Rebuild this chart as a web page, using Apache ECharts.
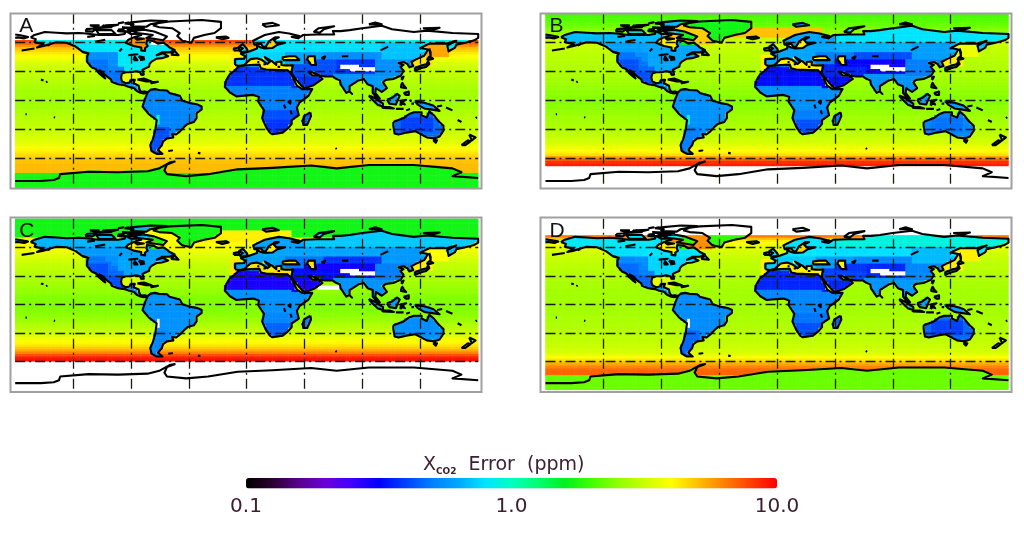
<!DOCTYPE html>
<html><head><meta charset="utf-8">
<script src="https://cdn.jsdelivr.net/npm/echarts@6/dist/echarts.min.js"></script>
<style>html,body{margin:0;background:#fff}#main{width:1024px;height:533px;filter:blur(0.75px)}</style>
</head><body><div id="main"></div>
<script>
const panelNames=['A','B','C','D'];
const colorbarTicks=[0.1,1,10];
const rampColors=['#000000','#2a0030','#5a0090','#6a00d8','#4000ff','#0000ff','#0040ff','#0080ff','#00a8ff','#00e4ff','#00ffc0','#00ff70','#00f020','#40ff00','#90ff00','#c8ff00','#ffff00','#ffc000','#ff8000','#ff4000','#ff0000'];

// ocean error (ppm) per 2.5-degree latitude row, north to south; 0 = no data
const oceanA=[0,0,0,0,0,0,0,0,0,0,0,7.8,6.8,5.8,5,4.6,4.3,4,3.8,3.6,3.4,3.3,3.2,3.15,3.1,3.05,3,2.95,2.9,2.85,2.8,2.75,2.7,2.7,2.7,2.7,
2.7,2.7,2.7,2.75,2.8,2.85,2.9,2.95,3,3,3.05,3.1,3.15,3.2,3.3,3.35,3.45,3.55,3.7,3.9,4.1,4.3,4.5,4.7,4.9,5,5.1,5.1,5.1,5.1,1.7,1.7,1.7,1.7,1.7,1.7];
const oceanB=[2,2.05,2.1,2.15,2.2,2.3,2.4,2.5,2.7,2.9,3.1,3.2,3.2,3.15,3.1,3.05,3,3,2.95,2.95,2.9,2.9,2.85,2.85,2.8,2.8,2.75,2.7,2.7,2.65,2.6,2.55,2.5,2.5,2.45,2.45,
2.45,2.45,2.5,2.5,2.55,2.6,2.65,2.7,2.7,2.75,2.8,2.85,2.9,3,3.05,3.15,3.25,3.35,3.5,3.7,3.9,4.1,4.5,5.6,7,8.5,9,0,0,0,0,0,0,0,0,0];
const oceanC=[1.7,1.7,1.7,1.7,1.7,1.7,1.7,1.7,3.8,4,4,3.9,3.8,3.7,3.6,3.5,3.4,3.3,3.2,3.1,3.05,3,2.95,2.9,2.85,2.8,2.75,2.7,2.65,2.6,2.55,2.5,2.45,2.4,2.4,2.4,
2.4,2.4,2.4,2.45,2.5,2.55,2.6,2.7,2.8,2.9,3,3.1,3.25,3.45,3.7,3.9,4.1,4.4,4.8,5.4,6.2,7.5,9,9.5,0,0,0,0,0,0,0,0,0,0,0,0];
const oceanD=[0,0,0,0,0,0,8,6.5,5,4.2,3.9,3.7,3.5,3.4,3.3,3.2,3.15,3.1,3.05,3,3,2.95,2.9,2.9,2.85,2.85,2.8,2.8,2.75,2.75,2.7,2.7,2.7,2.7,2.7,2.7,
2.7,2.7,2.7,2.75,2.75,2.8,2.8,2.8,2.85,2.85,2.9,2.9,2.95,3,3,3.05,3.1,3.15,3.2,3.3,3.4,3.6,3.9,4.4,5,5.6,6.2,6.8,7,7,2.2,2.2,2.2,2.2,2.2,2.2];
const antarcticValues=[1.7,0,0,2.25];

// regional readings: [lonW,lonE,latS,latN] then ppm in panels A,B,C,D (null = keep); later rows win
const landZones=[
[[-170,-50,60,90],.85,.68,.66,.82],[[-170,-50,50,60],.82,.62,.6,.8],[[-130,-105,50,60],.8,.6,.58,.78],
[[-100,-50,25,50],.82,.62,.62,.75],
[[-130,-110,45,50],.55,.48,.48,.52],[[-130,-104,40,45],.55,.48,.48,.52],[[-130,-100,35,40],.55,.48,.48,.52],[[-130,-96,30,35],.52,.46,.46,.5],[[-125,-94,25,30],.5,.44,.44,.48],
[[-125,-108,30,42],.48,.42,.42,.46],[[-118,-90,15,30],.48,.42,.42,.46],[[-95,-75,7,18],.6,.58,.58,.6],
[[-82,-34,-56,13],.52,.56,.56,.54],[[-75,-60,-56,-28],.42,.5,.52,.46],[[-70,-67.5,-24,-15],.9,.9,0,0],
[[-18,52,-12,15],.5,.55,.55,.52],[[10,42,-36,-10],.42,.5,.52,.48],[[15,36,-36,-20],.38,.42,.45,.42],
[[-18,35,15,38],.38,.33,.29,.36],[[35,60,12,32],.38,.33,.29,.36],[[36,75,25,38],.42,.36,.33,.4],
[[-12,30,36,50],.75,.62,.6,.72],[[-12,45,50,72],.8,.62,.62,.8],[[30,60,38,50],.62,.5,.48,.6],
[[45,180,60,82],.88,.8,.72,.9],[[45,135,50,60],.78,.66,.62,.78],[[60,130,42,50],.55,.42,.38,.52],[[45,110,36,42],.42,.32,.3,.38],
[[70,105,28,42],.38,.3,.3,.36],[[73,87,32,38],0,0,0,0],[[80,100,30,36],0,0,0,0],[[100,135,22,42],.55,.5,.5,.52],[[105,145,42,60],.7,.6,.58,.68],[[135,180,50,60],.8,.68,.66,.8],
[[68,90,6,28],.56,.56,.56,.56],[[90,122,6,26],.58,.56,.56,.58],[[95,155,-11,6],.6,.58,.58,.6],
[[112,155,-44,-10],.46,.52,.56,.46],[[120,145,-32,-18],.4,.48,.54,.4],[[42,52,-27,-11],.46,.5,.52,.46],
[[165,180,-48,-33],3,3,3,3],
[[-75,-10,58,85],0,1.7,1.7,1.9],[[-180,180,63,90],0,null,null,null],[[-180,180,73,90],null,null,null,0]
];
const seaZones=[
[[-85,-50,58,79],null,4.8,4,6],[[-35,35,66,75],null,5,null,null],[[-35,35,66,78],null,null,4.2,null],[[-95,-75,50,65],6,4.2,4.2,4.2],
[[-12,42,29,47],4.2,4.2,4.4,4.2],[[25,56,35,48],4.2,4.2,4.4,4.2],[[10,30,53,66],4.8,4.2,4.2,4.6],[[128,145,35,55],4.4,4.2,4.2,4.2],
[[140,157,45,62],5.5,3.7,4,4.2],[[-98,-80,18,31],3.6,3.3,3.4,3.5],[[32,44,13,30],3.8,3.8,3.8,3.8],[[48,57,24,30],3.8,3.8,3.8,3.8],
[[55,72,15,21],null,null,0,null],[[-150,-143,-16,-14],.7,.7,.7,.7],
[[-180,180,73,90],0,null,null,0]
];

// coastlines in lon,lat
const northAmerica=[[-168,65.5],[-165,68],[-157,71],[-148,70.3],[-140,69.6],[-130,70],[-125,69.5],[-115,68],[-108,68],[-100,68],[-95,69],[-94,72],[-90,69],[-85,69],[-82,68],[-87,66],[-92,63],[-94,60],[-93,58.7],[-88,56.5],[-82,55],[-82,52],[-79,51.5],[-79,54.5],[-77,56.5],[-78,59],[-77.5,62.5],[-72,61.5],[-69,59],[-65,60],[-62,57.5],[-60,55],[-56,52.5],[-60,50],[-66,50],[-70,47],[-65,49],[-65,47],[-61,46],[-66,44],[-67,45],[-70,43.5],[-70,42],[-74,40.5],[-75.5,38],[-76,35],[-78,34],[-81,32],[-80,27],[-80.5,25],[-82,27],[-83,29.5],[-86,30.5],[-90,29.5],[-94,29.5],[-97,28],[-97.7,24],[-97,20],[-94,18],[-91,18.7],[-90.5,21],[-87,21.5],[-88,18],[-88.5,16],[-84,15.5],[-83.5,12],[-82,9],[-79.5,9.5],[-77,8.5],[-78,7.5],[-80,7.5],[-83,8.3],[-85.5,10],[-87.5,13],[-92,14.5],[-95,16],[-100,17],[-105,19.5],[-105.5,22],[-109,25.5],[-112.5,30],[-114.5,31.5],[-112,27],[-110,23],[-112,25],[-115,28.5],[-117,32.5],[-120.5,34.5],[-124,40],[-124,46],[-123,49],[-128,51],[-133,56],[-140,60],[-148,60.5],[-152,59],[-158,56.5],[-163,55],[-158,58.5],[-165,60.5],[-164,63.5],[-168,65.5]];
const southAmerica=[[-77,8.5],[-75,11],[-71.5,12],[-68,11],[-62,10.5],[-60,8],[-52,5],[-50,0],[-44,-2.5],[-38,-4],[-35,-6],[-35,-9],[-39,-13],[-39,-18],[-41,-22],[-46,-24],[-48.5,-27],[-52,-32],[-55,-35],[-58,-34.5],[-57,-38],[-62,-39],[-65,-42],[-66,-46],[-69,-51],[-65.5,-55],[-70,-55],[-74,-52],[-75,-46],[-73,-40],[-71,-30],[-70,-20],[-76,-14],[-81,-6],[-80,-2],[-79,2],[-77.5,7],[-77,8.5]];
const africa=[[-6,35.7],[3,37],[10,37.3],[11,33.5],[15,32.3],[20,32],[25,31.7],[32,31.2],[34.5,28],[37,21],[39,15.5],[43,12],[51,12],[48,5],[41,-2],[39,-7],[40.5,-15],[35,-20],[35,-24],[32.5,-28],[28,-33],[20,-34.7],[18,-33],[15,-27],[12,-18],[13.5,-10],[9,-1],[9.5,4],[5,6],[-4,5],[-8,4.5],[-13,8.5],[-17,14.5],[-16,21],[-13,27.5],[-9.5,31],[-6,35.7]];
const eurasia=[[-9,37],[-9,43],[-2,43.5],[-1,46],[-4.5,48.5],[2,51],[8,54],[8,57],[11,55],[14,54],[20,54.5],[24,58],[30,60],[23,60],[21,63],[25,65.5],[22,65.5],[17,61],[18,59],[15,56],[13,55.5],[11,59],[6,58],[5,62],[14,68],[25,71],[33,69.5],[41,67],[35,66],[40,64.5],[44,68],[55,68.5],[68,68.5],[67,72],[73,72],[80,73],[90,75],[105,77.5],[113,74],[130,71],[140,72.5],[160,70],[170,69.5],[180,69],[180,65],[177,62.5],[170,60],[163,58],[162,55],[157,51],[156,57],[163,62],[155,59],[142,59],[135,54.5],[141,53],[138,46.5],[132,43],[128,40],[129.5,36],[126.5,34.5],[125,38],[122,40],[118,39],[122,37],[119.5,35],[122,31],[120,26],[114,22.5],[108,21.5],[106,19],[109,13],[105,9],[100.5,13],[100,8],[103.5,2],[101,3],[98,8],[98,15],[94,17],[91,22.5],[87,21],[80,15],[80,10],[77.5,8],[73,17],[72.5,21],[69,23],[67,25],[61,25],[57,26],[50,30],[48,30],[51,26],[51,24.5],[56,26],[59,22.5],[52,16],[45,13],[43,15],[39,21],[35,28],[35,31.5],[36,36.5],[30,36.5],[27,37],[27,40.5],[23,40],[23,37],[19.5,41],[14,45],[12.5,44],[18,40],[16,38],[12,42],[8,44],[3,43],[0,39.5],[-2,37],[-6,36],[-9,37]];
const chukotka=[[-180,68.5],[-175,67.5],[-170,66],[-173,64.5],[-178,65.5],[-180,65]];
const greenland=[[-73,78],[-68,80.5],[-60,82],[-35,83.5],[-20,81.5],[-20,75],[-25,70],[-33,68],[-41,65],[-43,60],[-50,62],[-54,67],[-52,70],[-58,75],[-68,76],[-73,78]];
const australia=[[114,-22],[122,-18],[126,-14],[130,-12],[136,-12],[136,-15],[140,-17.5],[142,-11],[145.5,-15],[149,-21],[153,-26],[153,-31],[150,-37],[146,-39],[140,-38],[136,-35],[131,-31.5],[124,-33],[118,-35],[115,-34],[114,-26],[114,-22]];
const antarctica=[[-180,-83],[-160,-83],[-150,-82],[-146,-80],[-145,-76],[-123,-73.5],[-100,-74],[-77,-73],[-68,-70],[-60,-64],[-56,-63],[-62,-66],[-64,-72],[-62,-76],[-47,-78],[-30,-76],[-7,-71],[20,-69.5],[50,-67],[70,-70],[95,-66.5],[130,-66.5],[160,-70],[167,-74],[160,-78],[180,-80]];
const islands=[
[[-80,73.5],[-72,71.5],[-67,69],[-62,66.5],[-65,62.5],[-72,64],[-78,65],[-73,68],[-85,70],[-89,72],[-80,73.5]],
[[-117,73],[-105,73],[-102,69],[-115,69],[-117,73]],[[-125,74],[-116,75],[-120,71.5],[-125,72],[-125,74]],
[[-90,77],[-78,76.5],[-75,79],[-62,82.5],[-75,83],[-90,81],[-90,77]],[[-97,76],[-80,75],[-90,74],[-97,76]],[[-117,76],[-105,76],[-105,74.5],[-117,75],[-117,76]],[[-95,80],[-88,79],[-92,81],[-95,80]],[[-110,78],[-100,78.5],[-105,77],[-110,78]],
[[-100,73.5],[-96,74],[-95,71.5],[-100,72],[-100,73.5]],[[-122,78],[-115,78],[-118,76.5],[-122,78]],[[-100,80],[-96,81],[-97,79],[-100,80]],[[-93,73],[-90,74],[-90,71.5],[-93,73]],[[-112,78],[-108,77],[-112,76.5],[-112,78]],
[[-87,65],[-80,64],[-85,63],[-87,65]],[[-59,47.7],[-53,47],[-56,51.5],[-59,47.7]],[[-85,22],[-80,23],[-74,20],[-78,20],[-85,22]],[[-74,19],[-69,19.5],[-69,18],[-74,18],[-74,19]],
[[-24,65.5],[-16,66.3],[-14,65],[-19,63.5],[-24,65.5]],[[-5,50],[1,51],[0,54],[-3,58.5],[-6,56],[-3,54],[-5,52],[-5,50]],[[-10,52],[-6,52],[-6,55],[-10,54],[-10,52]],
[[12,79],[20,80.5],[25,78],[15,76.5],[12,79]],[[52,71],[56,75],[68,77],[60,74],[57,70.5],[52,71]],[[95,79],[105,79],[100,81],[95,79]],[[137,75],[150,75.5],[145,73.5],[137,75]],
[[142,54],[143,50],[143,46],[142,48],[142,54]],[[131,34],[136,36.5],[140,38],[141,41],[142,38],[139.5,35],[135,33.5],[131,31],[131,34]],[[140,42],[142,45.5],[145,43.5],[141,42],[140,42]],
[[120,23],[122,25],[121,22],[120,23]],[[120,16],[121,18.5],[122,16],[124,13],[120,14],[120,16]],[[122,8],[126,9.5],[126,6],[124,6],[122,8]],
[[109,1],[113,3],[117,7],[119,5],[117.5,1],[116,-4],[111,-3],[109,1]],[[95,5.5],[100,2.5],[106,-3],[106,-6],[102,-4.5],[97,2],[95,5.5]],[[105,-6.5],[111,-6.5],[114.5,-8],[106,-7.5],[105,-6.5]],
[[119.5,-5],[120,0],[124,1],[121,-1],[123,-4],[121,-3],[119.5,-5]],[[131,-1],[138,-2],[145,-5],[150,-10.5],[143,-9],[138,-8],[133,-4],[131,-1]],[[80,9.5],[82,7],[80.5,6],[80,9.5]],
[[49.5,-12],[50,-16],[47,-25],[44,-25],[43.5,-21],[44.5,-16],[49.5,-12]],[[145,-41],[148,-41],[147,-43.5],[145,-41]],[[167,-46],[172,-41],[174,-42],[170,-46],[167,-46]],[[173,-35],[178,-38],[175,-41],[174,-38],[173,-35]]
];
const waters=[
[[28,42],[28,45],[33,46],[38,46],[41,42],[35,42],[28,42]],[[50,37],[54,37],[53,42],[53,46],[48,46],[47,43],[50,37]]
];
const lakesAndIslets=[
[[-92,47],[-85,48],[-85,46.5],[-92,47]],[[-88,42],[-87,45.5],[-85,42],[-88,42]],[[-84,46],[-80,45],[-82,43],[-84,46]],[[-83,42],[-79,43]],[[-124,66],[-118,67]],[[-118,61],[-110,63]],[[-99,51],[-97,54]],
[[58,44],[61,46],[60,43.5],[58,44]],[[74,46],[79,46]],[[104,52],[110,56]],[[32,-1],[34,0],[34,-3],[32,-1]],[[29,-4],[30,-8]],[[34,-10],[35,-14]],
[[-156,19],[-155,20],[-156,20.5],[-156,19]],[[-160,22],[-158,21]],[[-61,-52],[-58,-51.5],[-59,-52.5],[-61,-52]],[[-38,-54],[-36,-54.5]],[[69,-49],[70,-50]],[[178,-18],[179,-17]],[[164,-20],[167,-22]],[[155,-7],[160,-10]],[[148,-6],[152,-5]],[[124,-10],[127,-8.5]],[[116,-8.5],[122,-8.5]],[[128,-3],[130,-3]],[[127,1],[128,-1]],[[-128,50.5],[-124,49]],[[-155,57],[-153,58]],[[-175,52],[-165,54]],[[9,39],[9,41]],[[13,37.5],[15,38]],[[24,35],[26,35]],[[-150,-17],[-149,-17.5]],[[-172,-14],[-171,-14]]
];

const landPolys=[northAmerica,southAmerica,africa,eurasia,chukotka,greenland,australia].concat(islands);
const antarcticPoly=antarctica.concat([[180,-90],[-180,-90]]);
const STEP=2.5,lonCenters=[],latCenters=[];
for(let i=0;i<144;i++)lonCenters.push(-178.75+STEP*i);
for(let j=0;j<72;j++)latCenters.push(88.75-STEP*j);

function inside(poly,x,y){let c=false;for(let i=0,j=poly.length-1;i<poly.length;j=i++){const a=poly[i],b=poly[j];if((a[1]>y)!==(b[1]>y)&&x<(b[0]-a[0])*(y-a[1])/(b[1]-a[1])+a[0])c=!c;}return c;}
const kind=latCenters.map(la=>lonCenters.map(lo=>{
  if(waters.some(p=>inside(p,lo,la)))return 0;
  if(landPolys.some(p=>inside(p,lo,la)))return 1;
  if(inside(antarcticPoly,lo,la))return 2;
  return 0;}));
const applyZones=(zones,p,lo,la,v)=>{for(const z of zones){const b=z[0];if(lo>=b[0]&&lo<b[1]&&la>=b[2]&&la<b[3]&&z[p+1]!==null)v=z[p+1];}return v;};
function panelCells(p,ocean){const out=[];
  for(let r=0;r<72;r++)for(let c=0;c<144;c++){
    const la=latCenters[r],lo=lonCenters[c],k=kind[r][c];let v;
    if(k===1)v=applyZones(landZones,p,lo,la,0.55);
    else if(k===2)v=antarcticValues[p];
    else v=applyZones(seaZones,p,lo,la,ocean[r]);
    if(v>0)out.push([c,71-r,Math.log10(v)]);
  }return out;}

const coastData=[];
[].concat(landPolys,waters,lakesAndIslets,[antarctica]).forEach(s=>{s.forEach(q=>coastData.push(q));coastData.push([NaN,NaN]);});

const boxes=[{left:15.2,top:13.7,width:463,height:174},{left:545.5,top:13.7,width:463,height:174},{left:15.2,top:218.8,width:463,height:171},{left:545.5,top:218.8,width:463,height:171}];
const frames=[[10.5,13.5,471,175],[540.5,13.5,471,175],[10.5,217.5,471,174.5],[540.5,217.5,471,174.5]];
const oceans=[oceanA,oceanB,oceanC,oceanD];
const gridLine={show:true,lineStyle:{color:'#1a1a10',width:1.3,type:[10,4,2,4]}};
const grid=[],xAxis=[],yAxis=[],series=[];
boxes.forEach((b,p)=>{
  grid.push(Object.assign({show:false},b));
  xAxis.push({gridIndex:p,type:'category',data:lonCenters,show:false});
  yAxis.push({gridIndex:p,type:'category',data:latCenters.slice().reverse(),show:false});
  xAxis.push({gridIndex:p,type:'value',min:-180,max:180,interval:45,z:5,axisLine:{show:false},axisTick:{show:false},axisLabel:{show:false},splitLine:Object.assign({showMinLine:false,showMaxLine:false},gridLine)});
  yAxis.push({gridIndex:p,type:'value',min:-90,max:90,interval:30,z:5,axisLine:{show:false},axisTick:{show:false},axisLabel:{show:false},splitLine:Object.assign({showMinLine:false,showMaxLine:false},gridLine)});
  series.push({type:'heatmap',xAxisIndex:2*p,yAxisIndex:2*p,data:panelCells(p,oceans[p]),progressive:0,silent:true,animation:false,z:1,itemStyle:{borderWidth:0}});
});
boxes.forEach((b,p)=>{
  series.push({type:'line',xAxisIndex:2*p+1,yAxisIndex:2*p+1,data:coastData,showSymbol:false,symbol:'none',connectNulls:false,silent:true,animation:false,z:6,lineStyle:{color:'#000',width:2.1,join:'round'}});
});
grid.push({left:246,top:478,width:531,height:10,show:false});
xAxis.push({gridIndex:4,type:'log',logBase:10,min:colorbarTicks[0],max:colorbarTicks[2],axisLine:{show:false},axisTick:{show:false},splitLine:{show:false},minorTick:{show:false},minorSplitLine:{show:false},axisLabel:{show:true,margin:9,color:'#3c2030',fontFamily:'DejaVu Sans',fontSize:20,showMinLabel:true,showMaxLabel:true,formatter:v=>Number(v).toFixed(1)}});
yAxis.push({gridIndex:4,type:'value',show:false,min:0,max:1});
series.push({type:'scatter',xAxisIndex:8,yAxisIndex:8,data:[],silent:true});

const graphic=frames.map(f=>({type:'rect',z:20,silent:true,shape:{x:f[0],y:f[1],width:f[2],height:f[3]},style:{fill:'none',stroke:'#a0a0a0',lineWidth:2}}));
panelNames.forEach((n,p)=>graphic.push({type:'text',z:30,silent:true,left:boxes[p].left+4,top:boxes[p].top+2,style:{text:n,fill:'#111',font:'21px "Liberation Sans"'}}));
graphic.push({type:'text',z:30,silent:true,left:423,top:456,style:{rich:{x:{fontFamily:'DejaVu Sans',fontSize:19,fill:'#3c2030',lineHeight:22,padding:[0,0,0,0]},s:{fontFamily:'DejaVu Sans',fontSize:9,fontWeight:'bold',fill:'#3c2030',verticalAlign:'bottom',padding:[8,0,0,0]}},text:'{x|X}{s|CO2}{x|  Error  (ppm)}'}});

echarts.init(document.getElementById('main'),null,{renderer:'canvas'}).setOption({
  animation:false,backgroundColor:'#fff',grid,xAxis,yAxis,series,graphic,
  visualMap:{type:'continuous',show:true,min:-1,max:1,dimension:2,seriesIndex:[0,1,2,3],orient:'horizontal',left:246,top:478,padding:0,itemWidth:10.5,itemHeight:531,calculable:false,showLabel:false,text:null,inRange:{color:rampColors},realtime:false,hoverLink:false}
});
</script></body></html>
